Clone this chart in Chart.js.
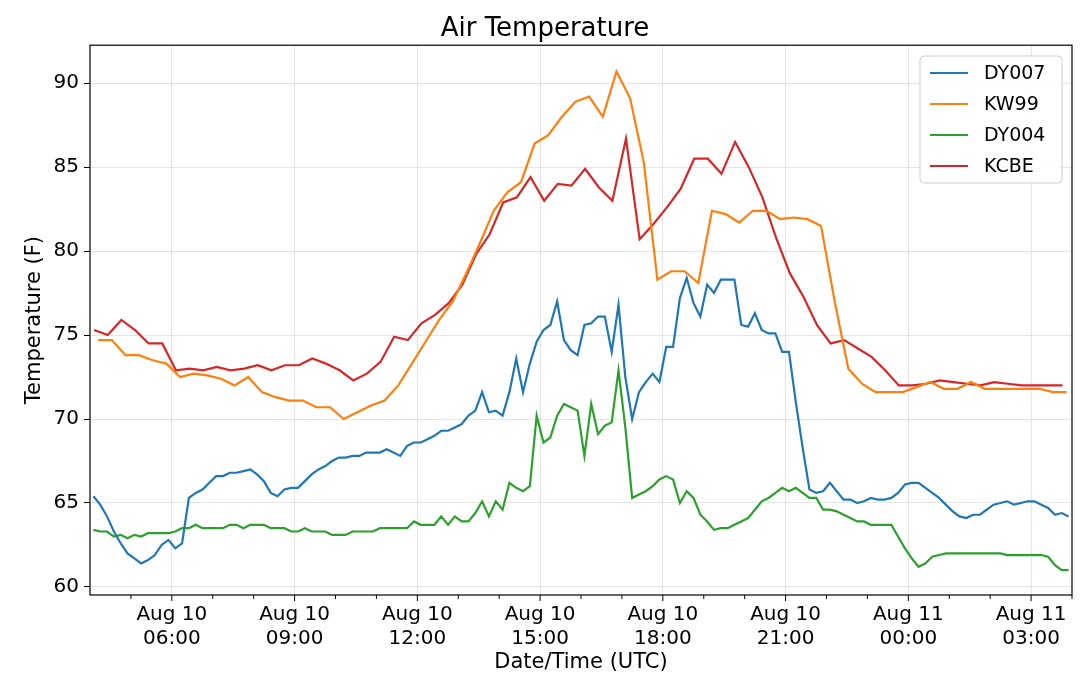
<!DOCTYPE html>
<html>
<head>
<meta charset="utf-8">
<script src="https://cdn.jsdelivr.net/npm/chart.js@4"></script>
<style>
  html, body { margin: 0; padding: 0; background: #fff; }
  #wrap { width: 1080px; height: 689px; }
</style>
</head>
<body>
<div id="wrap"><canvas id="c" width="1080" height="689"></canvas></div>
<script>
// times are hours since Aug 10 00:00 UTC
const seriesNames = ["DY007", "KW99", "DY004", "KCBE"];
const seriesColors = ["#1f77b4", "#ff7f0e", "#2ca02c", "#d62728"];

// DY stations: every 10 min from 04:05
const dyStart = 4 + 5 / 60, dyStep = 10 / 60;
const dy007 = [65.4,64.9,64.2,63.3,62.6,62.0,61.7,61.4,61.6,61.9,62.5,62.8,62.3,62.6,65.3,65.6,65.8,66.2,66.6,66.6,
  66.8,66.8,66.9,67.0,66.7,66.3,65.6,65.4,65.8,65.9,65.9,66.3,66.7,67.0,67.2,67.5,67.7,67.7,67.8,67.8,
  68.0,68.0,68.0,68.2,68.0,67.8,68.4,68.6,68.6,68.8,69.0,69.3,69.3,69.5,69.7,70.2,70.5,71.6,70.4,70.5,
  70.2,71.6,73.6,71.6,73.3,74.6,75.3,75.6,77.0,74.7,74.1,73.8,75.6,75.7,76.1,76.1,74.0,76.8,72.5,70.0,
  71.6,72.2,72.7,72.2,74.3,74.3,77.2,78.4,76.9,76.1,78.0,77.5,78.3,78.3,78.3,75.6,75.5,76.3,75.3,75.1,
  75.1,74.0,74.0,71.0,68.3,65.8,65.6,65.7,66.2,65.7,65.2,65.2,65.0,65.1,65.3,65.2,65.2,65.3,65.6,66.1,
  66.2,66.2,65.9,65.6,65.3,64.9,64.5,64.2,64.1,64.3,64.3,64.6,64.9,65.0,65.1,64.9,65.0,65.1,65.1,64.9,
  64.7,64.3,64.4,64.2];
const dy004 = [63.4,63.3,63.3,63.0,63.1,62.9,63.1,63.0,63.2,63.2,63.2,63.2,63.3,63.5,63.5,63.7,63.5,63.5,63.5,63.5,
  63.7,63.7,63.5,63.7,63.7,63.7,63.5,63.5,63.5,63.3,63.3,63.5,63.3,63.3,63.3,63.1,63.1,63.1,63.3,63.3,
  63.3,63.3,63.5,63.5,63.5,63.5,63.5,63.9,63.7,63.7,63.7,64.2,63.7,64.2,63.9,63.9,64.4,65.1,64.2,65.1,
  64.6,66.2,65.9,65.7,66.0,70.2,68.6,68.9,70.2,70.9,70.7,70.5,67.8,70.9,69.1,69.6,69.8,72.9,69.5,65.3,
  65.5,65.7,66.0,66.4,66.6,66.4,65.0,65.7,65.3,64.3,63.9,63.4,63.5,63.5,63.7,63.9,64.1,64.6,65.1,65.3,
  65.6,65.9,65.7,65.9,65.6,65.3,65.3,64.6,64.6,64.5,64.3,64.1,63.9,63.9,63.7,63.7,63.7,63.7,63.0,62.3,
  61.7,61.2,61.4,61.8,61.9,62.0,62.0,62.0,62.0,62.0,62.0,62.0,62.0,62.0,61.9,61.9,61.9,61.9,61.9,61.9,
  61.8,61.3,61.0,61.0];

// METAR stations: every 20 min
const kw99Start = 4.2, kcbeStart = 4.1, metarStep = 20 / 60;
const kw99 = [74.7,74.7,73.8,73.8,73.5,73.3,72.5,72.7,72.6,72.4,72.0,72.5,71.6,71.3,71.1,71.1,70.7,70.7,70.0,70.4,
  70.8,71.1,72.0,73.3,74.6,75.9,77.0,78.7,80.5,82.4,83.5,84.1,86.4,86.9,88.0,88.9,89.2,88.0,90.7,89.1,
  85.3,78.3,78.8,78.8,78.1,82.4,82.2,81.7,82.4,82.4,81.9,82.0,81.9,81.5,77.0,73.0,72.1,71.6,71.6,71.6,
  71.9,72.2,71.8,71.8,72.2,71.8,71.8,71.8,71.8,71.8,71.6,71.6];
const kcbe = [75.3,75.0,75.9,75.3,74.5,74.5,72.9,73.0,72.9,73.1,72.9,73.0,73.2,72.9,73.2,73.2,73.6,73.3,72.9,72.3,
  72.7,73.4,74.9,74.7,75.7,76.2,76.9,78.0,79.8,81.0,82.9,83.2,84.4,83.0,84.0,83.9,84.9,83.8,83.0,86.7,
  80.7,81.6,82.6,83.7,85.5,85.5,84.6,86.5,85.0,83.2,80.8,78.7,77.3,75.6,74.5,74.7,74.2,73.7,72.9,72.0,
  72.0,72.1,72.3,72.2,72.1,72.0,72.2,72.1,72.0,72.0,72.0,72.0];

const xMin = 4, xMax = 28;
const yTicks = [60, 65, 70, 75, 80, 85, 90];

function pts(vals, start, step) {
  return vals.map((v, i) => ({ x: start + i * step, y: v }));
}

const FONT = "'DejaVu Sans', sans-serif";

const frame = {
  id: 'frame',
  afterDraw(chart) {
    const { ctx, chartArea: a } = chart;
    const xs = chart.scales.x;
    ctx.save();
    ctx.strokeStyle = '#000';
    ctx.lineWidth = 1.2;
    ctx.strokeRect(a.left, a.top, a.right - a.left, a.bottom - a.top);
    // x ticks: long at majors, short at each hour
    ctx.lineWidth = 1;
    for (let h = 5; h <= 28; h++) {
      const px = xs.getPixelForValue(h);
      const len = h % 3 === 0 ? 6 : 4;
      ctx.beginPath();
      ctx.moveTo(px, a.bottom);
      ctx.lineTo(px, a.bottom + len);
      ctx.stroke();
    }
    // legend
    const bx = 920, by = 56, bw = 142, bh = 127;
    ctx.fillStyle = 'rgba(255,255,255,0.85)';
    ctx.strokeStyle = '#ccc';
    ctx.beginPath();
    ctx.roundRect(bx, by, bw, bh, 4);
    ctx.fill();
    ctx.stroke();
    ctx.font = '19px ' + FONT;
    ctx.textBaseline = 'middle';
    seriesNames.forEach((n, i) => {
      const yy = by + 17 + i * 31;
      ctx.strokeStyle = seriesColors[i];
      ctx.lineWidth = 2;
      ctx.beginPath();
      ctx.moveTo(bx + 10, yy);
      ctx.lineTo(bx + 48, yy);
      ctx.stroke();
      ctx.fillStyle = '#000';
      ctx.fillText(n, bx + 64, yy + 1);
    });
    ctx.restore();
  }
};

const mk = (i, data) => ({
  label: seriesNames[i], data, borderColor: seriesColors[i], backgroundColor: seriesColors[i],
  borderWidth: 2.2, pointRadius: 0, tension: 0, fill: false
});

new Chart(document.getElementById('c'), {
  type: 'line',
  data: {
    datasets: [
      mk(0, pts(dy007, dyStart, dyStep)),
      mk(1, pts(kw99, kw99Start, metarStep)),
      mk(2, pts(dy004, dyStart, dyStep)),
      mk(3, pts(kcbe, kcbeStart, metarStep))
    ]
  },
  options: {
    responsive: false,
    animation: false,
    layout: { padding: { left: 18, right: 8, top: 0, bottom: 10 } },
    plugins: {
      legend: { display: false },
      tooltip: { enabled: false },
      title: {
        display: true, text: 'Air Temperature', color: '#000',
        font: { family: FONT, size: 26, weight: 'normal' },
        padding: { top: 14, bottom: 0 }
      }
    },
    scales: {
      x: {
        type: 'linear', min: xMin, max: xMax,
        afterFit(s) { s.height = 84; },
        afterBuildTicks(s) {
          const t = [];
          for (let h = 6; h <= 27; h += 3) t.push({ value: h });
          s.ticks = t;
        },
        ticks: {
          autoSkip: false, maxRotation: 0, color: '#000', padding: 2,
          font: { family: FONT, size: 20, lineHeight: 1.2 },
          callback(v) {
            const day = v < 24 ? 10 : 11;
            const hh = String(v % 24).padStart(2, '0');
            return ['Aug ' + day, hh + ':00'];
          }
        },
        grid: { color: 'rgba(0,0,0,0.1)', drawTicks: true, tickLength: 6, tickColor: 'rgba(0,0,0,0)' },
        border: { display: false },
        title: { display: true, text: 'Date/Time (UTC)', color: '#000', font: { family: FONT, size: 21 }, padding: { top: 0 } }
      },
      y: {
        min: 59.52, max: 92.26,
        afterFit(s) { s.width = 72; },
        afterBuildTicks(s) { s.ticks = yTicks.map(v => ({ value: v })); },
        ticks: { color: '#000', font: { family: FONT, size: 20 }, padding: 5 },
        grid: { color: 'rgba(0,0,0,0.1)', tickColor: '#000', tickLength: 6 },
        border: { display: false },
        title: { display: true, text: 'Temperature (F)', color: '#000', font: { family: FONT, size: 21 }, padding: { bottom: 2 } }
      }
    }
  },
  plugins: [frame]
});
</script>
</body>
</html>
